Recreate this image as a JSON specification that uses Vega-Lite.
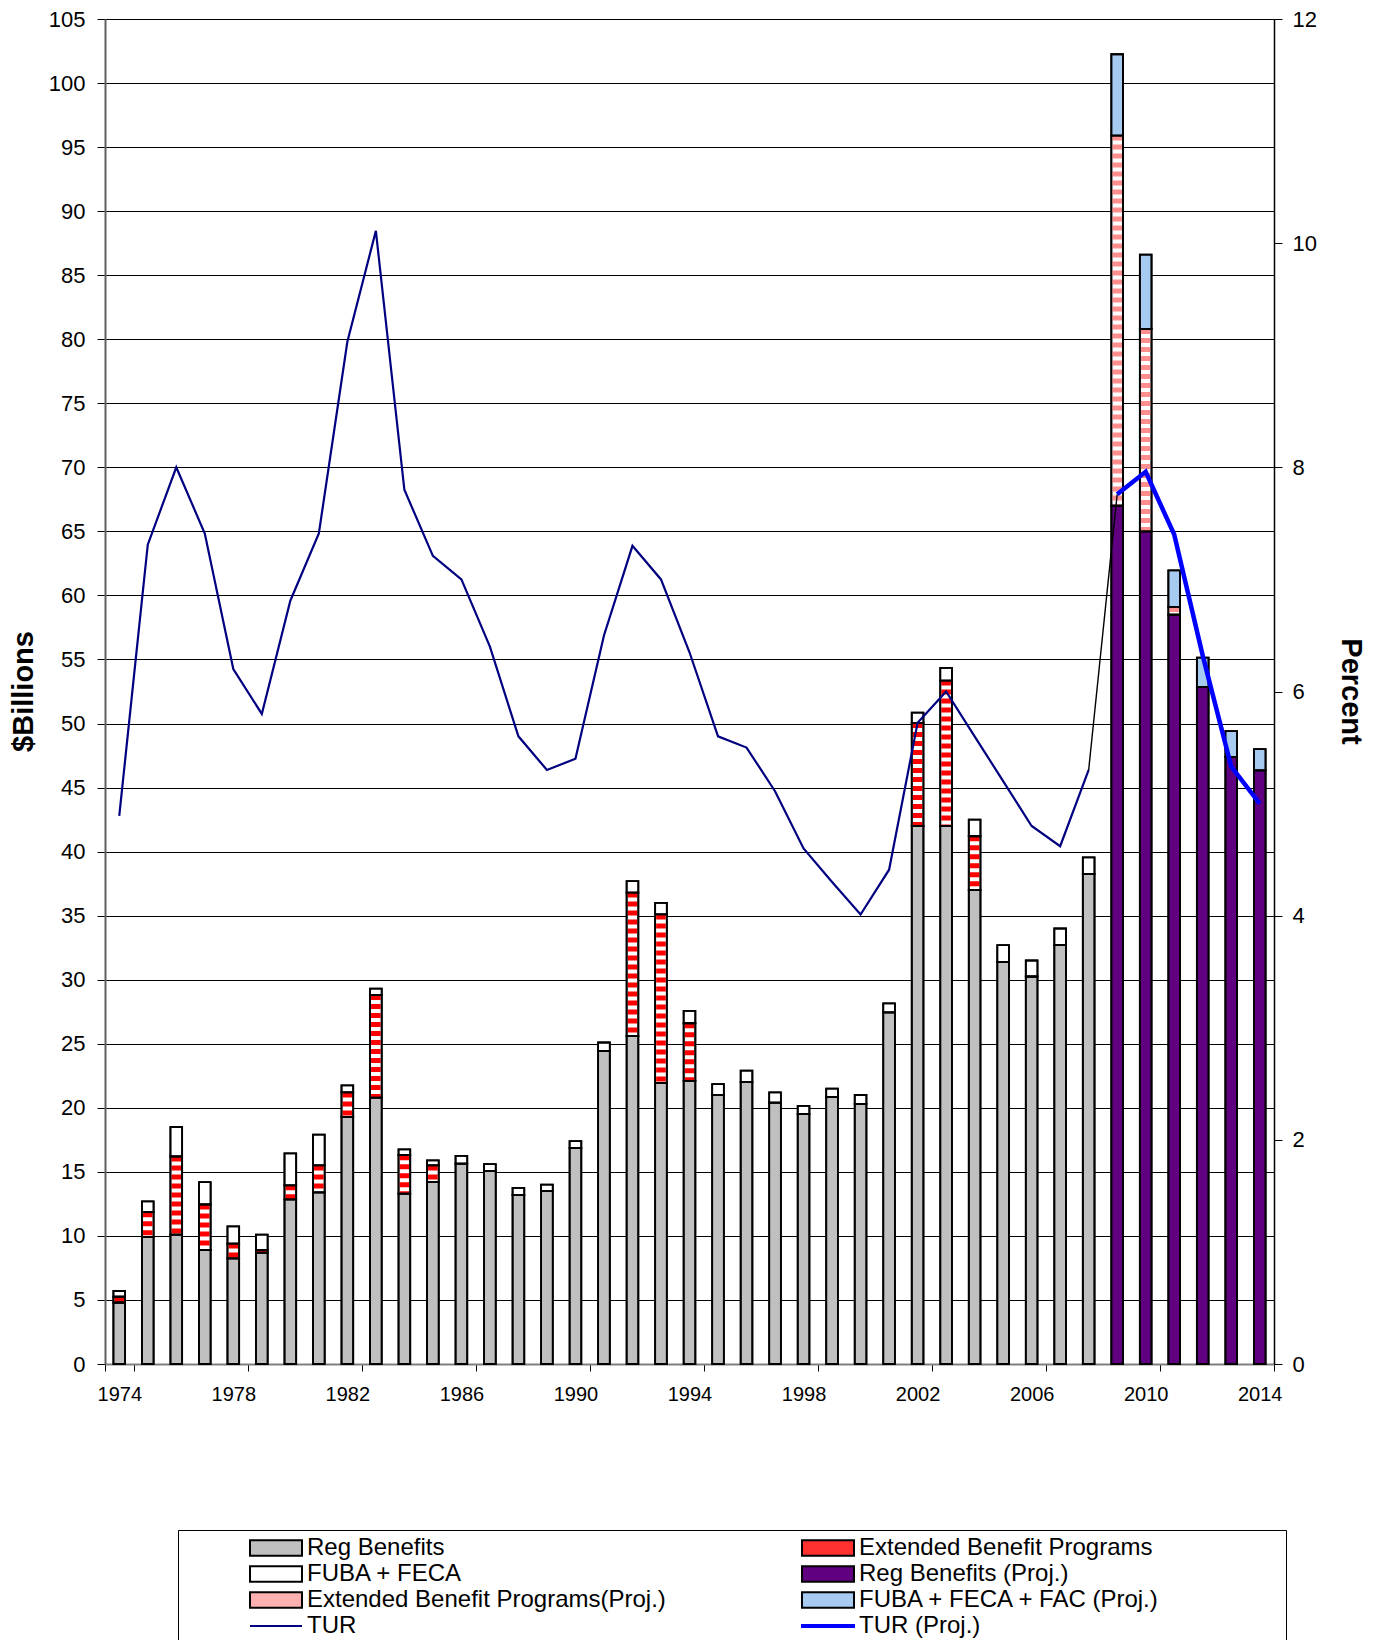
{
  "$schema": "https://vega.github.io/schema/vega-lite/v6.json",
  "width": 1169,
  "height": 1345,
  "autosize": {"type": "none"},
  "padding": {"left": 105, "top": 19, "right": 105, "bottom": 276},
  "background": "white",
  "config": {
    "font": "Liberation Sans",
    "view": {"stroke": null},
    "axis": {"labelColor": "black", "titleColor": "black", "tickColor": "black"},
    "legend": {
      "orient": "none",
      "legendX": 73,
      "legendY": 1511,
      "direction": "horizontal",
      "columns": 2,
      "symbolSize": 400,
      "symbolStrokeWidth": 2,
      "symbolOffset": 80,
      "labelOffset": 19,
      "labelFontSize": 24,
      "labelLimit": 700,
      "labelColor": "black",
      "columnPadding": 70,
      "rowPadding": 2,
      "padding": 6,
      "strokeColor": "black",
      "fillColor": "white",
      "gridAlign": "all",
      "titleOrient": "right",
      "titlePadding": 120,
      "titleFontSize": 10
    }
  },
  "datasets": {
    "bars": [
      {"year": 1974, "series": "Reg Benefits", "level": 1, "value": 4.8},
      {"year": 1974, "series": "Extended Benefit Programs", "level": 2, "value": 0.45},
      {"year": 1974, "series": "FUBA + FECA", "level": 3, "value": 0.45},
      {"year": 1975, "series": "Reg Benefits", "level": 1, "value": 9.9},
      {"year": 1975, "series": "Extended Benefit Programs", "level": 2, "value": 1.95},
      {"year": 1975, "series": "FUBA + FECA", "level": 3, "value": 0.85},
      {"year": 1976, "series": "Reg Benefits", "level": 1, "value": 10.1},
      {"year": 1976, "series": "Extended Benefit Programs", "level": 2, "value": 6.1},
      {"year": 1976, "series": "FUBA + FECA", "level": 3, "value": 2.3},
      {"year": 1977, "series": "Reg Benefits", "level": 1, "value": 8.9},
      {"year": 1977, "series": "Extended Benefit Programs", "level": 2, "value": 3.55},
      {"year": 1977, "series": "FUBA + FECA", "level": 3, "value": 1.75},
      {"year": 1978, "series": "Reg Benefits", "level": 1, "value": 8.25},
      {"year": 1978, "series": "Extended Benefit Programs", "level": 2, "value": 1.15},
      {"year": 1978, "series": "FUBA + FECA", "level": 3, "value": 1.35},
      {"year": 1979, "series": "Reg Benefits", "level": 1, "value": 8.7},
      {"year": 1979, "series": "Extended Benefit Programs", "level": 2, "value": 0.2},
      {"year": 1979, "series": "FUBA + FECA", "level": 3, "value": 1.2},
      {"year": 1980, "series": "Reg Benefits", "level": 1, "value": 12.85},
      {"year": 1980, "series": "Extended Benefit Programs", "level": 2, "value": 1.1},
      {"year": 1980, "series": "FUBA + FECA", "level": 3, "value": 2.5},
      {"year": 1981, "series": "Reg Benefits", "level": 1, "value": 13.4},
      {"year": 1981, "series": "Extended Benefit Programs", "level": 2, "value": 2.1},
      {"year": 1981, "series": "FUBA + FECA", "level": 3, "value": 2.4},
      {"year": 1982, "series": "Reg Benefits", "level": 1, "value": 19.3},
      {"year": 1982, "series": "Extended Benefit Programs", "level": 2, "value": 1.9},
      {"year": 1982, "series": "FUBA + FECA", "level": 3, "value": 0.55},
      {"year": 1983, "series": "Reg Benefits", "level": 1, "value": 20.8},
      {"year": 1983, "series": "Extended Benefit Programs", "level": 2, "value": 8.0},
      {"year": 1983, "series": "FUBA + FECA", "level": 3, "value": 0.5},
      {"year": 1984, "series": "Reg Benefits", "level": 1, "value": 13.3},
      {"year": 1984, "series": "Extended Benefit Programs", "level": 2, "value": 3.0},
      {"year": 1984, "series": "FUBA + FECA", "level": 3, "value": 0.45},
      {"year": 1985, "series": "Reg Benefits", "level": 1, "value": 14.2},
      {"year": 1985, "series": "Extended Benefit Programs", "level": 2, "value": 1.3},
      {"year": 1985, "series": "FUBA + FECA", "level": 3, "value": 0.4},
      {"year": 1986, "series": "Reg Benefits", "level": 1, "value": 15.65},
      {"year": 1986, "series": "FUBA + FECA", "level": 3, "value": 0.6},
      {"year": 1987, "series": "Reg Benefits", "level": 1, "value": 15.05},
      {"year": 1987, "series": "FUBA + FECA", "level": 3, "value": 0.55},
      {"year": 1988, "series": "Reg Benefits", "level": 1, "value": 13.2},
      {"year": 1988, "series": "FUBA + FECA", "level": 3, "value": 0.55},
      {"year": 1989, "series": "Reg Benefits", "level": 1, "value": 13.5},
      {"year": 1989, "series": "FUBA + FECA", "level": 3, "value": 0.5},
      {"year": 1990, "series": "Reg Benefits", "level": 1, "value": 16.85},
      {"year": 1990, "series": "FUBA + FECA", "level": 3, "value": 0.55},
      {"year": 1991, "series": "Reg Benefits", "level": 1, "value": 24.45},
      {"year": 1991, "series": "FUBA + FECA", "level": 3, "value": 0.65},
      {"year": 1992, "series": "Reg Benefits", "level": 1, "value": 25.6},
      {"year": 1992, "series": "Extended Benefit Programs", "level": 2, "value": 11.2},
      {"year": 1992, "series": "FUBA + FECA", "level": 3, "value": 0.9},
      {"year": 1993, "series": "Reg Benefits", "level": 1, "value": 21.95},
      {"year": 1993, "series": "Extended Benefit Programs", "level": 2, "value": 13.15},
      {"year": 1993, "series": "FUBA + FECA", "level": 3, "value": 0.9},
      {"year": 1994, "series": "Reg Benefits", "level": 1, "value": 22.1},
      {"year": 1994, "series": "Extended Benefit Programs", "level": 2, "value": 4.5},
      {"year": 1994, "series": "FUBA + FECA", "level": 3, "value": 0.97},
      {"year": 1995, "series": "Reg Benefits", "level": 1, "value": 21.0},
      {"year": 1995, "series": "FUBA + FECA", "level": 3, "value": 0.85},
      {"year": 1996, "series": "Reg Benefits", "level": 1, "value": 22.0},
      {"year": 1996, "series": "FUBA + FECA", "level": 3, "value": 0.9},
      {"year": 1997, "series": "Reg Benefits", "level": 1, "value": 20.4},
      {"year": 1997, "series": "FUBA + FECA", "level": 3, "value": 0.8},
      {"year": 1998, "series": "Reg Benefits", "level": 1, "value": 19.5},
      {"year": 1998, "series": "FUBA + FECA", "level": 3, "value": 0.65},
      {"year": 1999, "series": "Reg Benefits", "level": 1, "value": 20.85},
      {"year": 1999, "series": "FUBA + FECA", "level": 3, "value": 0.65},
      {"year": 2000, "series": "Reg Benefits", "level": 1, "value": 20.3},
      {"year": 2000, "series": "FUBA + FECA", "level": 3, "value": 0.7},
      {"year": 2001, "series": "Reg Benefits", "level": 1, "value": 27.45},
      {"year": 2001, "series": "FUBA + FECA", "level": 3, "value": 0.7},
      {"year": 2002, "series": "Reg Benefits", "level": 1, "value": 42.0},
      {"year": 2002, "series": "Extended Benefit Programs", "level": 2, "value": 8.05},
      {"year": 2002, "series": "FUBA + FECA", "level": 3, "value": 0.8},
      {"year": 2003, "series": "Reg Benefits", "level": 1, "value": 42.0},
      {"year": 2003, "series": "Extended Benefit Programs", "level": 2, "value": 11.35},
      {"year": 2003, "series": "FUBA + FECA", "level": 3, "value": 1.0},
      {"year": 2004, "series": "Reg Benefits", "level": 1, "value": 37.0},
      {"year": 2004, "series": "Extended Benefit Programs", "level": 2, "value": 4.2},
      {"year": 2004, "series": "FUBA + FECA", "level": 3, "value": 1.3},
      {"year": 2005, "series": "Reg Benefits", "level": 1, "value": 31.4},
      {"year": 2005, "series": "FUBA + FECA", "level": 3, "value": 1.3},
      {"year": 2006, "series": "Reg Benefits", "level": 1, "value": 30.25},
      {"year": 2006, "series": "FUBA + FECA", "level": 3, "value": 1.25},
      {"year": 2007, "series": "Reg Benefits", "level": 1, "value": 32.7},
      {"year": 2007, "series": "FUBA + FECA", "level": 3, "value": 1.3},
      {"year": 2008, "series": "Reg Benefits", "level": 1, "value": 38.25},
      {"year": 2008, "series": "FUBA + FECA", "level": 3, "value": 1.3},
      {"year": 2009, "series": "Reg Benefits (Proj.)", "level": 1, "value": 67.0},
      {"year": 2009, "series": "Extended Benefit Programs(Proj.)", "level": 2, "value": 28.9},
      {"year": 2009, "series": "FUBA + FECA + FAC (Proj.)", "level": 3, "value": 6.35},
      {"year": 2010, "series": "Reg Benefits (Proj.)", "level": 1, "value": 65.0},
      {"year": 2010, "series": "Extended Benefit Programs(Proj.)", "level": 2, "value": 15.8},
      {"year": 2010, "series": "FUBA + FECA + FAC (Proj.)", "level": 3, "value": 5.8},
      {"year": 2011, "series": "Reg Benefits (Proj.)", "level": 1, "value": 58.5},
      {"year": 2011, "series": "Extended Benefit Programs(Proj.)", "level": 2, "value": 0.6},
      {"year": 2011, "series": "FUBA + FECA + FAC (Proj.)", "level": 3, "value": 2.85},
      {"year": 2012, "series": "Reg Benefits (Proj.)", "level": 1, "value": 52.85},
      {"year": 2012, "series": "FUBA + FECA + FAC (Proj.)", "level": 3, "value": 2.3},
      {"year": 2013, "series": "Reg Benefits (Proj.)", "level": 1, "value": 47.4},
      {"year": 2013, "series": "FUBA + FECA + FAC (Proj.)", "level": 3, "value": 2.0},
      {"year": 2014, "series": "Reg Benefits (Proj.)", "level": 1, "value": 46.35},
      {"year": 2014, "series": "FUBA + FECA + FAC (Proj.)", "level": 3, "value": 1.65}
    ],
    "tur": [
      {"year": 1974, "series": "TUR", "pct": 4.89},
      {"year": 1975, "series": "TUR", "pct": 7.31},
      {"year": 1976, "series": "TUR", "pct": 8.0},
      {"year": 1977, "series": "TUR", "pct": 7.41},
      {"year": 1978, "series": "TUR", "pct": 6.2},
      {"year": 1979, "series": "TUR", "pct": 5.8},
      {"year": 1980, "series": "TUR", "pct": 6.81},
      {"year": 1981, "series": "TUR", "pct": 7.41},
      {"year": 1982, "series": "TUR", "pct": 9.12},
      {"year": 1983, "series": "TUR", "pct": 10.11},
      {"year": 1984, "series": "TUR", "pct": 7.8},
      {"year": 1985, "series": "TUR", "pct": 7.21},
      {"year": 1986, "series": "TUR", "pct": 7.0},
      {"year": 1987, "series": "TUR", "pct": 6.4},
      {"year": 1988, "series": "TUR", "pct": 5.6},
      {"year": 1989, "series": "TUR", "pct": 5.3},
      {"year": 1990, "series": "TUR", "pct": 5.4},
      {"year": 1991, "series": "TUR", "pct": 6.5},
      {"year": 1992, "series": "TUR", "pct": 7.3},
      {"year": 1993, "series": "TUR", "pct": 7.0},
      {"year": 1994, "series": "TUR", "pct": 6.35},
      {"year": 1995, "series": "TUR", "pct": 5.6},
      {"year": 1996, "series": "TUR", "pct": 5.5},
      {"year": 1997, "series": "TUR", "pct": 5.11},
      {"year": 1998, "series": "TUR", "pct": 4.6},
      {"year": 1999, "series": "TUR", "pct": 4.3},
      {"year": 2000, "series": "TUR", "pct": 4.01},
      {"year": 2001, "series": "TUR", "pct": 4.41},
      {"year": 2002, "series": "TUR", "pct": 5.72},
      {"year": 2003, "series": "TUR", "pct": 6.0},
      {"year": 2004, "series": "TUR", "pct": 5.6},
      {"year": 2005, "series": "TUR", "pct": 5.2},
      {"year": 2006, "series": "TUR", "pct": 4.8},
      {"year": 2007, "series": "TUR", "pct": 4.62},
      {"year": 2008, "series": "TUR", "pct": 5.3},
      {"year": 2008, "series": "link", "pct": 5.3},
      {"year": 2009, "series": "link", "pct": 7.76},
      {"year": 2009, "series": "TUR (Proj.)", "pct": 7.76},
      {"year": 2010, "series": "TUR (Proj.)", "pct": 7.96},
      {"year": 2011, "series": "TUR (Proj.)", "pct": 7.4},
      {"year": 2012, "series": "TUR (Proj.)", "pct": 6.32},
      {"year": 2013, "series": "TUR (Proj.)", "pct": 5.33},
      {"year": 2014, "series": "TUR (Proj.)", "pct": 5.0}
    ]
  },
  "encoding": {
    "x": {
      "field": "year",
      "type": "ordinal",
      "scale": {"paddingInner": 0, "paddingOuter": 0},
      "axis": {
        "values": [1974, 1978, 1982, 1986, 1990, 1994, 1998, 2002, 2006, 2010, 2014],
        "tickBand": "extent",
        "tickSize": 7,
        "labelFontSize": 20,
        "labelPadding": 13,
        "labelAngle": 0,
        "title": null,
        "domainColor": "#808080",
        "domainWidth": 2,
        "grid": false
      }
    }
  },
  "layer": [
    {
      "data": {"name": "bars"},
      "transform": [
        {"stack": "value", "groupby": ["year"], "sort": [{"field": "level", "order": "ascending"}], "as": ["v0", "v1"]}
      ],
      "encoding": {
        "y": {
          "field": "v1",
          "type": "quantitative",
          "scale": {"domain": [0, 105], "nice": false, "zero": true},
          "axis": {
            "values": [0, 5, 10, 15, 20, 25, 30, 35, 40, 45, 50, 55, 60, 65, 70, 75, 80, 85, 90, 95, 100, 105],
            "grid": true,
            "gridColor": "#000000",
            "gridWidth": 1,
            "tickSize": 8,
            "labelFontSize": 22,
            "labelPadding": 12,
            "domainColor": "#606060",
            "domainWidth": 2,
            "title": "$Billions",
            "titleFontSize": 29,
            "titleFontWeight": "bold",
            "titleAngle": 270,
            "titleX": -82,
            "titleY": 672,
            "titleAlign": "center",
            "titleBaseline": "middle"
          }
        },
        "y2": {"field": "v0"}
      },
      "layer": [
        {
          "mark": {"type": "bar", "width": {"band": 0.41}, "stroke": "black", "strokeWidth": 1.8},
          "encoding": {
            "fill": {
              "field": "series",
              "type": "nominal",
              "scale": {
                "domain": ["Reg Benefits", "Extended Benefit Programs", "FUBA + FECA", "Reg Benefits (Proj.)", "Extended Benefit Programs(Proj.)", "FUBA + FECA + FAC (Proj.)"],
                "range": ["#C0C0C0", "#FFFFFF", "#FFFFFF", "#600080", "#FFFFFF", "#A6CAF0"]
              },
              "legend": null
            }
          }
        },
        {
          "transform": [{"filter": {"field": "series", "equal": "Extended Benefit Programs"}}],
          "mark": {"type": "rule", "color": "#FF0000", "strokeWidth": 9.6, "strokeDash": [5, 4]},
          "encoding": {}
        },
        {
          "transform": [{"filter": {"field": "series", "equal": "Extended Benefit Programs(Proj.)"}}],
          "mark": {"type": "rule", "color": "#FF8F8F", "strokeWidth": 9.6, "strokeDash": [5, 4]},
          "encoding": {}
        },
        {
          "mark": {"type": "bar", "width": {"band": 0.41}, "fillOpacity": 0, "stroke": "black", "strokeWidth": 1.8},
          "encoding": {}
        },
        {
          "transform": [{"filter": "datum.level > 99"}],
          "mark": {"type": "point", "filled": true, "opacity": 1},
          "encoding": {
            "y2": null,
            "color": {
              "field": "series",
              "type": "nominal",
              "title": " ",
              "scale": {
                "domain": ["Reg Benefits", "Extended Benefit Programs", "FUBA + FECA", "Reg Benefits (Proj.)", "Extended Benefit Programs(Proj.)", "FUBA + FECA + FAC (Proj.)", "TUR", "TUR (Proj.)"],
                "range": ["#C0C0C0", "#FF3030", "#FFFFFF", "#600080", "#FFB0B0", "#A6CAF0", "#000080", "#0000FF"]
              }
            },
            "stroke": {
              "field": "series",
              "type": "nominal",
              "title": " ",
              "scale": {
                "domain": ["Reg Benefits", "Extended Benefit Programs", "FUBA + FECA", "Reg Benefits (Proj.)", "Extended Benefit Programs(Proj.)", "FUBA + FECA + FAC (Proj.)", "TUR", "TUR (Proj.)"],
                "range": ["#000000", "#000000", "#000000", "#000000", "#000000", "#000000", "#000080", "#0000FF"]
              }
            },
            "shape": {
              "field": "series",
              "type": "nominal",
              "title": " ",
              "scale": {
                "domain": ["Reg Benefits", "Extended Benefit Programs", "FUBA + FECA", "Reg Benefits (Proj.)", "Extended Benefit Programs(Proj.)", "FUBA + FECA + FAC (Proj.)", "TUR", "TUR (Proj.)"],
                "range": ["M-2.6,-0.78H2.6V0.78H-2.6Z", "M-2.6,-0.78H2.6V0.78H-2.6Z", "M-2.6,-0.78H2.6V0.78H-2.6Z", "M-2.6,-0.78H2.6V0.78H-2.6Z", "M-2.6,-0.78H2.6V0.78H-2.6Z", "M-2.6,-0.78H2.6V0.78H-2.6Z", "M-2.6,0H2.6", "M-2.6,-0.1H2.6V0.1H-2.6Z"]
              }
            }
          }
        }
      ]
    },
    {
      "data": {"name": "tur"},
      "encoding": {
        "y": {
          "field": "pct",
          "type": "quantitative",
          "scale": {"domain": [0, 12], "nice": false, "zero": true},
          "axis": {
            "orient": "right",
            "values": [0, 2, 4, 6, 8, 10, 12],
            "grid": false,
            "tickSize": 8,
            "labelFontSize": 22,
            "labelPadding": 10,
            "domainColor": "#000000",
            "domainWidth": 1.5,
            "title": "Percent",
            "titleFontSize": 29,
            "titleFontWeight": "bold",
            "titleAngle": 90,
            "titleX": 76,
            "titleY": 672,
            "titleAlign": "center",
            "titleBaseline": "middle"
          }
        }
      },
      "layer": [
        {
          "transform": [{"filter": {"field": "series", "equal": "TUR"}}],
          "mark": {"type": "line", "color": "#000080", "strokeWidth": 2.2},
          "encoding": {}
        },
        {
          "transform": [{"filter": {"field": "series", "equal": "link"}}],
          "mark": {"type": "line", "color": "#000000", "strokeWidth": 1.4},
          "encoding": {}
        },
        {
          "transform": [{"filter": {"field": "series", "equal": "TUR (Proj.)"}}],
          "mark": {"type": "line", "color": "#0000FF", "strokeWidth": 4.5},
          "encoding": {}
        }
      ]
    }
  ],
  "resolve": {"scale": {"y": "independent"}}
}
